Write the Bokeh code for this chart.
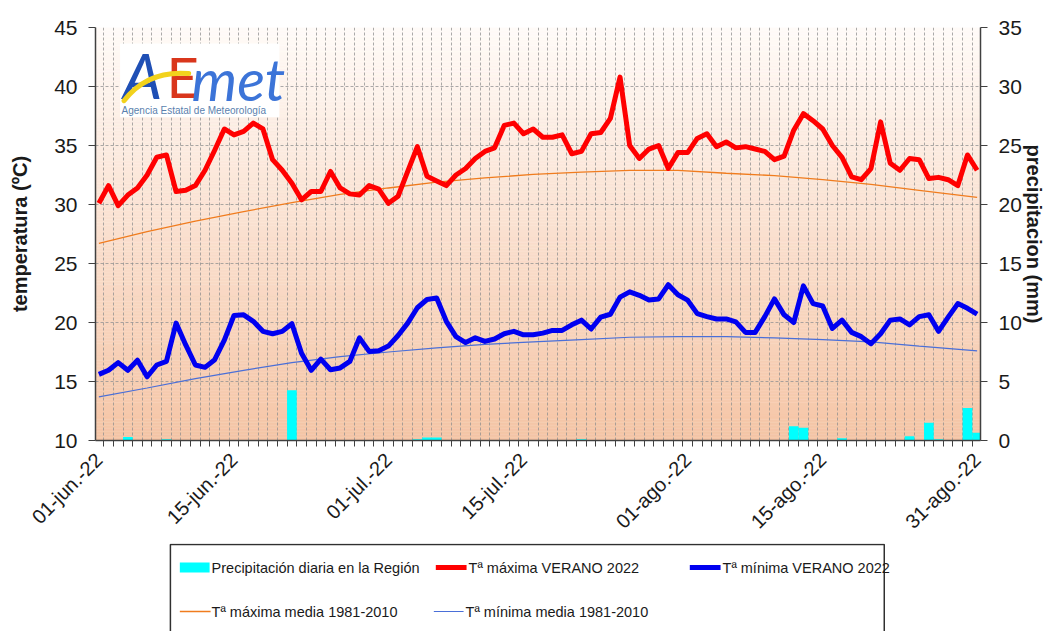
import math
import pandas as pd
from bokeh.plotting import figure
from bokeh.models import Range1d, LinearAxis, FixedTicker
from bokeh.layouts import column
from bokeh.core.properties import value
from bokeh.embed import file_html
from bokeh.resources import INLINE

# ---------------- data ----------------
dates = pd.date_range("2022-06-01", "2022-08-31", freq="D")
tick_dates = ["2022-06-01", "2022-06-15", "2022-07-01", "2022-07-15",
              "2022-08-01", "2022-08-15", "2022-08-31"]
tick_labels = ["01-jun.-22", "15-jun.-22", "01-jul.-22", "15-jul.-22",
               "01-ago.-22", "15-ago.-22", "31-ago.-22"]

tmax = [30.1, 31.6, 29.9, 30.8, 31.4, 32.5, 34.0, 34.2, 31.1, 31.2,
        31.6, 32.9, 34.6, 36.4, 35.9, 36.2, 36.9, 36.4, 33.8, 32.9,
        31.8, 30.4, 31.1, 31.1, 32.8, 31.4, 30.9, 30.8, 31.6, 31.3,
        30.1, 30.7, 32.8, 34.9, 32.4, 32.0, 31.6, 32.5, 33.05, 33.9,
        34.5, 34.8, 36.7, 36.9, 36.0, 36.4, 35.7, 35.7, 35.9, 34.3,
        34.5, 36.0, 36.1, 37.3, 40.8, 35.0, 33.9, 34.7, 35.0, 33.05,
        34.4, 34.4, 35.6, 36.0, 34.9, 35.3, 34.8, 34.9, 34.7, 34.5,
        33.8, 34.1, 36.3, 37.7, 37.1, 36.4, 35.0, 34.0, 32.35, 32.1,
        33.05, 37.0, 33.5, 32.9, 33.9, 33.8, 32.2, 32.3, 32.1, 31.6,
        34.2, 32.9]

tmin = [15.6, 15.95, 16.6, 15.95, 16.8, 15.4, 16.4, 16.7, 19.95, 18.1,
        16.4, 16.2, 16.85, 18.5, 20.6, 20.65, 20.1, 19.25, 19.05, 19.25,
        19.9, 17.4, 15.95, 16.9, 16.0, 16.15, 16.7, 18.7, 17.55, 17.6,
        18.0, 18.9, 19.95, 21.25, 21.95, 22.07, 20.1, 18.8, 18.3, 18.7,
        18.4, 18.6, 19.05, 19.25, 18.96, 18.96, 19.1, 19.33, 19.33, 19.8,
        20.2, 19.45, 20.45, 20.7, 22.15, 22.6, 22.3, 21.9, 22.0, 23.2,
        22.35, 21.9, 20.75, 20.5, 20.3, 20.3, 20.05, 19.16, 19.16, 20.5,
        22.0, 20.65, 20.0, 23.1, 21.6, 21.4, 19.5, 20.2, 19.16, 18.8,
        18.2, 19.05, 20.2, 20.3, 19.8, 20.5, 20.65, 19.25, 20.45, 21.6,
        21.2, 20.7]

precip = [0, 0, 0, 0.3, 0, 0, 0, 0.1, 0, 0,
          0, 0, 0, 0, 0, 0, 0, 0, 0, 0,
          4.25, 0.05, 0, 0.05, 0, 0, 0, 0, 0, 0,
          0, 0, 0, 0.1, 0.25, 0.25, 0, 0, 0, 0,
          0, 0, 0, 0, 0, 0, 0, 0, 0, 0,
          0.1, 0, 0, 0, 0, 0, 0, 0, 0, 0,
          0, 0, 0, 0, 0, 0, 0, 0, 0, 0.05,
          0, 0, 1.2, 1.07, 0.05, 0, 0, 0.2, 0, 0,
          0, 0, 0, 0.05, 0.36, 0, 1.5, 0.1, 0.05, 0.05,
          2.76, 0.65]

norm_days = [0, 5, 10, 15, 20, 25, 30, 35, 40, 45, 50, 55, 60, 65, 70, 75, 80, 85, 91]
norm_max = [26.7, 27.7, 28.6, 29.4, 30.15, 30.85, 31.4, 31.9, 32.25, 32.55,
            32.75, 32.9, 32.9, 32.65, 32.45, 32.1, 31.7, 31.2, 30.6]
norm_min = [13.7, 14.45, 15.25, 15.95, 16.6, 17.1, 17.5, 17.85, 18.15, 18.35,
            18.55, 18.75, 18.8, 18.8, 18.7, 18.55, 18.35, 18.0, 17.6]

legend_labels = ["Precipitación diaria en la Región", "Tª máxima VERANO 2022",
                 "Tª mínima VERANO 2022", "Tª máxima media 1981-2010",
                 "Tª mínima media 1981-2010"]

# ---------------- styles ----------------
FONT = "Liberation Sans, Arial, sans-serif"
RED = "#FF0000"
BLUE = "#0000F0"
ORANGE = "#F07C1E"
LBLUE = "#4A6FD8"
CYAN = "#00FFFF"

W = 1047
BL, BR, BT, BB = 95, 60, 27, 102

idx = list(range(len(dates)))
tick_pos = [int((pd.Timestamp(d) - dates[0]).days) for d in tick_dates]

p = figure(width=W, height=543,
           x_range=Range1d(-0.35, len(dates) - 1 + 0.35),
           y_range=Range1d(10, 45),
           output_backend="svg", toolbar_location=None,
           min_border_left=BL, min_border_right=BR,
           min_border_top=BT, min_border_bottom=BB,
           background_fill_color="white", border_fill_color="white",
           outline_line_color=None)
p.extra_y_ranges = {"precip": Range1d(0, 35)}

# background gradient (white top -> peach bottom)
nb = 140
top_c = (255, 251, 248)
bot_c = (245, 197, 166)
bands_b, bands_t, bands_c = [], [], []
for k in range(nb):
    y0 = 10 + 35 * k / nb
    y1 = 10 + 35 * (k + 1) / nb
    f = (k + 0.5) / nb
    c = tuple(int(round(bot_c[j] + (top_c[j] - bot_c[j]) * f)) for j in range(3))
    bands_b.append(y0)
    bands_t.append(y1)
    bands_c.append("#%02x%02x%02x" % c)
p.quad(left=-1, right=len(dates) + 1, bottom=bands_b, top=bands_t,
       fill_color=bands_c, line_color=bands_c, line_width=0.5, level="image")

# bars
p.vbar(x=idx, top=precip, bottom=0, width=1.0, y_range_name="precip",
       fill_color=CYAN, line_color=None)

# normals
p.line(norm_days, norm_max, line_color=ORANGE, line_width=1.3)
p.line(norm_days, norm_min, line_color=LBLUE, line_width=1.2)

# 2022 series
p.line(idx, tmax, line_color=RED, line_width=5, line_join="round")
p.line(idx, tmin, line_color=BLUE, line_width=5, line_join="round")

# logo
p.quad(left=2.2, right=18.7, bottom=37.4, top=43.65, fill_color="white", line_color=None)
p.text(x=[2.5], y=[41.0], text=["A"], text_color="#1F4FB5", text_font=value("Lato"),
       text_font_style="italic", text_font_size="62px", text_baseline="alphabetic")
p.text(x=[7.0], y=[40.86], text=["E"], text_color="#D9361C", text_font=value("Lato"),
       text_font_size="56px", text_baseline="alphabetic")
p.text(x=[9.6], y=[40.7], text=["met"], text_color="#3C74D8", text_font=value("Lato"),
       text_font_style="italic", text_font_size="58px", text_baseline="alphabetic")
p.bezier(x0=[2.6], y0=[38.8], x1=[9.3], y1=[41.1], cx0=[4.3], cy0=[40.6], cx1=[6.5], cy1=[41.3],
         line_color="#F2D21C", line_width=5, line_cap="round")
p.text(x=[2.35], y=[37.98], text=["Agencia Estatal de Meteorología"], text_color="#5A7FAE",
       text_font=value("Liberation Sans"), text_font_size="10px",
       text_baseline="alphabetic")

# axes
p.yaxis.ticker = FixedTicker(ticks=list(range(10, 46, 5)))
p.yaxis.axis_label = "temperatura (ºC)"
right = LinearAxis(y_range_name="precip", ticker=FixedTicker(ticks=list(range(0, 36, 5))),
                   axis_label="precipitacion (mm)")
p.add_layout(right, "right")

p.xaxis.ticker = FixedTicker(ticks=tick_pos, minor_ticks=[i - 0.5 for i in range(len(dates) + 1)])
p.xaxis.major_label_overrides = {tp: lab for tp, lab in zip(tick_pos, tick_labels)}
p.xaxis.major_label_orientation = math.pi / 4
p.xaxis.major_tick_out = 6
p.xaxis.minor_tick_out = 6
p.xaxis.minor_tick_in = 0
p.xaxis.minor_tick_line_color = "#404040"
p.xaxis.major_label_standoff = 10
p.xaxis.major_label_text_font_size = "20px"

for ax in [p.yaxis[0], right]:
    ax.major_tick_out = 7
    ax.major_tick_in = 0
    ax.minor_tick_line_color = None
    ax.major_label_text_font_size = "21px"
    ax.axis_label_text_font_size = "20px"
    ax.axis_label_text_font_style = "bold"
    ax.major_label_standoff = 11
    ax.major_tick_line_color = "#404040"
p.yaxis[0].axis_label_standoff = 20
right.axis_label_standoff = -2

for ax in [p.xaxis[0], p.yaxis[0], right]:
    ax.axis_line_color = "#404040"
    ax.axis_line_width = 1.5
    ax.major_label_text_font = FONT
    ax.axis_label_text_font = FONT
    ax.major_label_text_color = "#1a1a1a"
    ax.axis_label_text_color = "#1a1a1a"
p.xaxis.major_tick_line_color = None

p.xgrid.ticker = FixedTicker(ticks=[i + 0.5 for i in range(len(dates) - 1)])
p.ygrid.ticker = FixedTicker(ticks=list(range(15, 46, 5)))
for g in [p.xgrid[0], p.ygrid[0]]:
    g.grid_line_color = "#8f8f8f"
    g.grid_line_dash = "3 2"
    g.grid_line_width = 1
    g.grid_line_alpha = 0.75

# ---------------- legend panel (coordinates = page pixels) ----------------
lf = figure(width=W, height=88, x_range=Range1d(BL, W - BR), y_range=Range1d(631, 543),
            output_backend="svg", toolbar_location=None,
            min_border_left=BL, min_border_right=BR, min_border_top=0, min_border_bottom=0,
            outline_line_color=None, background_fill_color="white",
            border_fill_color="white")
lf.axis.visible = False
lf.grid.visible = False
lf.quad(left=[170.5], right=[890], top=[544], bottom=[660], fill_color=None,
        line_color="#303030", line_width=1.5)
r1, r2 = 567, 611
lf.quad(left=[180], right=[210], top=[562], bottom=[572], fill_color=CYAN, line_color=None)
lf.segment(x0=[438], y0=[r1], x1=[469], y1=[r1], line_color=RED, line_width=5)
lf.segment(x0=[694], y0=[r1], x1=[725], y1=[r1], line_color=BLUE, line_width=5)
lf.segment(x0=[180], y0=[r2], x1=[211], y1=[r2], line_color=ORANGE, line_width=1.3)
lf.segment(x0=[436], y0=[r2], x1=[466], y1=[r2], line_color=LBLUE, line_width=1.2)
lf.text(x=[212, 471, 727, 212, 468], y=[r1, r1, r1, r2, r2], text=legend_labels,
        text_font=value(FONT), text_font_size="14.5px", text_color="#1a1a1a",
        text_baseline="middle", text_align="left")

layout = column(p, lf)
open("out.html", "w").write(file_html(layout, INLINE))
